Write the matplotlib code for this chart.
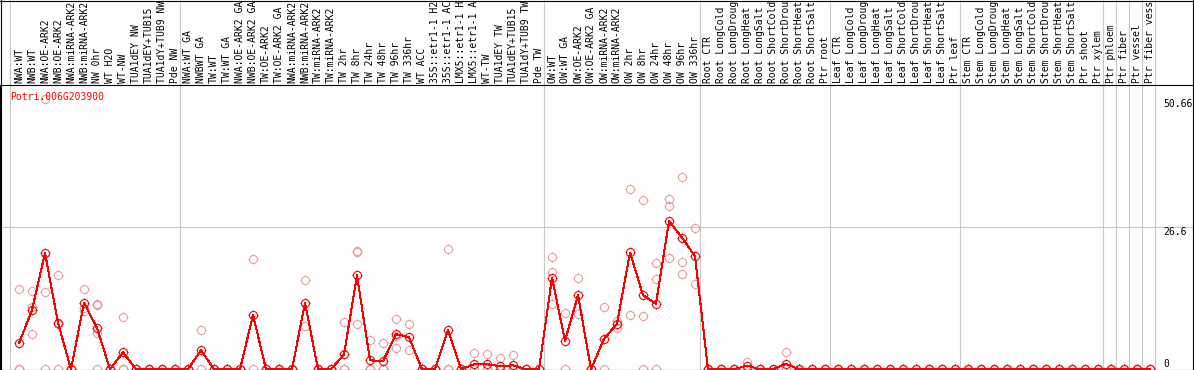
"""
Expression profile of Potri.006G203900 across poplar samples
"""

import matplotlib
matplotlib.use("Agg")
import matplotlib.pyplot as plt
from matplotlib.path import Path
from matplotlib.lines import Line2D
from matplotlib.transforms import blended_transform_factory

# Sample names, in plotting order (as far as they show in the label band)
samples = [
    "NWA:WT", "NWB:WT", "NWA:OE-ARK2", "NWB:OE-ARK2", "NWA:miRNA-ARK2", "NWB:miRNA-ARK2",
    "NW 0hr", "WT H2O", "WT-NW", "TUA1dEY NW", "TUA1dEY+TUB15", "TUA1dY+TUB9 NW", "Pde NW",
    "NWA:WT GA", "NWBWT GA", "TW:WT", "TW:WT GA", "NWA:OE-ARK2 GA", "NWB:OE-ARK2 GA",
    "TW:OE-ARK2", "TW:OE-ARK2 GA", "NWA:miRNA-ARK2", "NWB:miRNA-ARK2", "TW:miRNA-ARK2",
    "TW:miRNA-ARK2", "TW 2hr", "TW 8hr", "TW 24hr", "TW 48hr", "TW 96hr", "TW 336hr",
    "WT ACC", "35S::etr1-1 H2", "35S::etr1-1 AC", "LMX5::etr1-1 H", "LMX5::etr1-1 A",
    "WT-TW", "TUA1dEY TW", "TUA1dEY+TUB15", "TUA1dY+TUB9 TW", "Pde TW",
    "OW:WT", "OW:WT GA", "OW:OE-ARK2", "OW:OE-ARK2 GA", "OW:miRNA-ARK2", "OW:miRNA-ARK2",
    "OW 2hr", "OW 8hr", "OW 24hr", "OW 48hr", "OW 96hr", "OW 336hr",
    "Root CTR", "Root LongCold", "Root LongDroug", "Root LongHeat", "Root LongSalt",
    "Root ShortCold", "Root ShortDrou", "Root ShortHeat", "Root ShortSalt", "Ptr root",
    "Leaf CTR", "Leaf LongCold", "Leaf LongDroug", "Leaf LongHeat", "Leaf LongSalt",
    "Leaf ShortCold", "Leaf ShortDrou", "Leaf ShortHeat", "Leaf ShortSalt", "Ptr leaf",
    "Stem CTR", "Stem LongCold", "Stem LongDroug", "Stem LongHeat", "Stem LongSalt",
    "Stem ShortCold", "Stem ShortDrou", "Stem ShortHeat", "Stem ShortSalt", "Ptr shoot",
    "Ptr xylem", "Ptr phloem", "Ptr fiber", "Ptr vessel", "Ptr fiber vess",
]

# Mean expression per sample
means = [
    4.9, 11.1, 21.8, 8.7, 0, 12.5, 7.75, 0, 3.2, 0, 0, 0, 0,
    0, 3.6, 0, 0, 0, 10.2, 0, 0, 0, 12.5, 0, 0, 2.8, 17.6, 1.7, 1.5, 6.6, 6.05,
    0, 0, 7.4, 0, 0.95, 0.95, 0.6, 0.75, 0, 0,
    17.2, 5.35, 13.9, 0, 5.7, 8.55, 21.9, 13.9, 12.3, 27.8, 24.7, 21.2,
    0, 0, 0, 0.7, 0, 0, 1.05, 0, 0, 0,
    0, 0, 0, 0, 0, 0, 0, 0, 0, 0,
    0, 0, 0, 0, 0, 0, 0, 0, 0, 0,
    0, 0, 0, 0, 0,
]

# Individual replicate values per sample
replicates = [
    [15.0, 0, 0], [14.6, 11.6, 6.6], [50.66, 14.4, 0], [17.6, 8.5, 0], [0, 0],
    [15.0, 11.5, 11.0], [12.3, 12.1, 6.9, 0], [0, 0], [9.8, 0, 0], [0, 0], [0, 0], [0, 0], [0, 0],
    [0, 0], [7.4, 0], [0, 0], [0, 0], [0, 0], [20.6, 0], [0, 0], [0, 0], [0, 0],
    [16.8, 8.05], [0, 0], [0, 0], [8.9, 0, 0], [22.2, 21.9, 8.5], [5.5, 0, 0], [4.9, 0, 0],
    [9.5, 6.3, 4.0], [8.5, 3.65],
    [0, 0], [0, 0], [22.5, 0, 0], [0, 0], [3.0, 0, 0], [2.9, 0, 0], [2.2, 0, 0], [2.7, 0, 0],
    [0, 0], [0, 0],
    [21.0, 18.3, 12.3], [10.6, 0], [17.1, 10.45], [0, 0], [11.6, 0], [9.1, 7.75],
    [33.8, 10.1], [31.8, 9.9, 0], [20.0, 16.9, 0], [32.0, 30.6, 20.85], [36.1, 20.2, 17.8],
    [26.5, 15.9],
    [0, 0], [0, 0], [0, 0], [1.45, 0], [0, 0], [0, 0], [3.2, 0, 0], [0, 0], [0, 0], [0, 0],
] + [[0, 0]] * 25

# Sample index after which a group separator is drawn
group_ends = [12, 40, 52, 62, 72, 83, 84, 85, 86, 87]

# Values shown on the right-hand axis
ytick_values = [50.66, 26.6, 0]
ytick_labels = ["50.66", "26.6", "0"]

gene_id = "Potri.006G203900"

W, H = 1194, 370
LABEL_H = 85
FONT = "DejaVu Sans Mono"
FS = 7.0
GRID = "#c8c8c8"
MEAN_COLOR = "#ff0000"
REP_COLOR = "#e89a9a"

# four short ticks around a circle (the circle itself is the plain 'o' marker)
TICKS = Path(
    [(0, 0.75), (0, 1), (0, -0.75), (0, -1), (0.75, 0), (1, 0), (-0.75, 0), (-1, 0)],
    [Path.MOVETO, Path.LINETO] * 4,
)


def draw_points(ax, xs, ys, mcolor, mew, **line_kw):
    """Open circle with crosshair ticks at every point."""
    ax.plot(xs, ys, marker="o", ms=5.8, mfc="none", mec=mcolor, mew=mew,
            antialiased=False, **line_kw)
    z = line_kw.get("zorder", 2)
    ax.plot(xs, ys, ls="none", marker=TICKS, ms=7.8, mec=mcolor, mew=mew, zorder=z,
            antialiased=False)


def plot_profile():
    fig = plt.figure(figsize=(W / 100, H / 100), dpi=100)
    ax = fig.add_axes([0, 0, 1, (H - LABEL_H) / H])

    x = list(range(len(samples)))
    ax.set_xlim(-19 / 13, (W - 19) / 13)
    ax.set_ylim(-0.13, 53.3)
    ax.set_xticks([])
    ax.set_yticks([])
    for spine in ax.spines.values():
        spine.set_linewidth(0.8)
        spine.set_color("black")

    # Grid: one horizontal line and the group separators (run up through the label band)
    ax.axhline(26.6, color=GRID, lw=0.8, zorder=0)
    top = H / (H - LABEL_H)
    ax.axvline(-9 / 13, ymin=0, ymax=top, color=GRID, lw=0.8, zorder=0, clip_on=False)
    for g in group_ends:
        ax.axvline(g + 0.42, ymin=0, ymax=top, color=GRID, lw=0.8, zorder=0, clip_on=False)

    # Replicates
    for i, reps in enumerate(replicates):
        draw_points(ax, [i] * len(reps), reps, REP_COLOR, 0.75, ls="none", zorder=2)

    # Means, joined by a line
    draw_points(ax, x, means, MEAN_COLOR, 0.8, color=MEAN_COLOR, lw=0.75, zorder=3)

    # Sample names, rotated, in the band above the plot
    trans = blended_transform_factory(ax.transData, ax.transAxes)
    for i, name in enumerate(samples):
        ax.text(i, 1.006, name, transform=trans, rotation=90, ha="center", va="bottom",
                family=FONT, fontsize=FS, color="black", clip_on=False)

    # Right-hand value labels
    for val, lab in zip(ytick_values, ytick_labels):
        va = "bottom" if val == 0 else "top"
        ax.text(88.0, val, lab, ha="left", va=va, family=FONT, fontsize=FS, color="black")

    ax.text(10 / W, (H - 97) / (H - LABEL_H), gene_id, transform=ax.transAxes,
            ha="left", va="center", family=FONT, fontsize=FS, color=MEAN_COLOR, zorder=5)

    # Outer frame around labels and plot
    for xs, ys in [([0.5 / W, 0.5 / W], [0, 1]), ([1 - 1.5 / W, 1 - 1.5 / W], [0, 1]),
                   ([0, 1], [1 - 0.5 / H, 1 - 0.5 / H])]:
        fig.add_artist(Line2D(xs, ys, transform=fig.transFigure, color="black", lw=0.8))

    fig.savefig("out.png", dpi=100)


def main():
    plot_profile()


main()
